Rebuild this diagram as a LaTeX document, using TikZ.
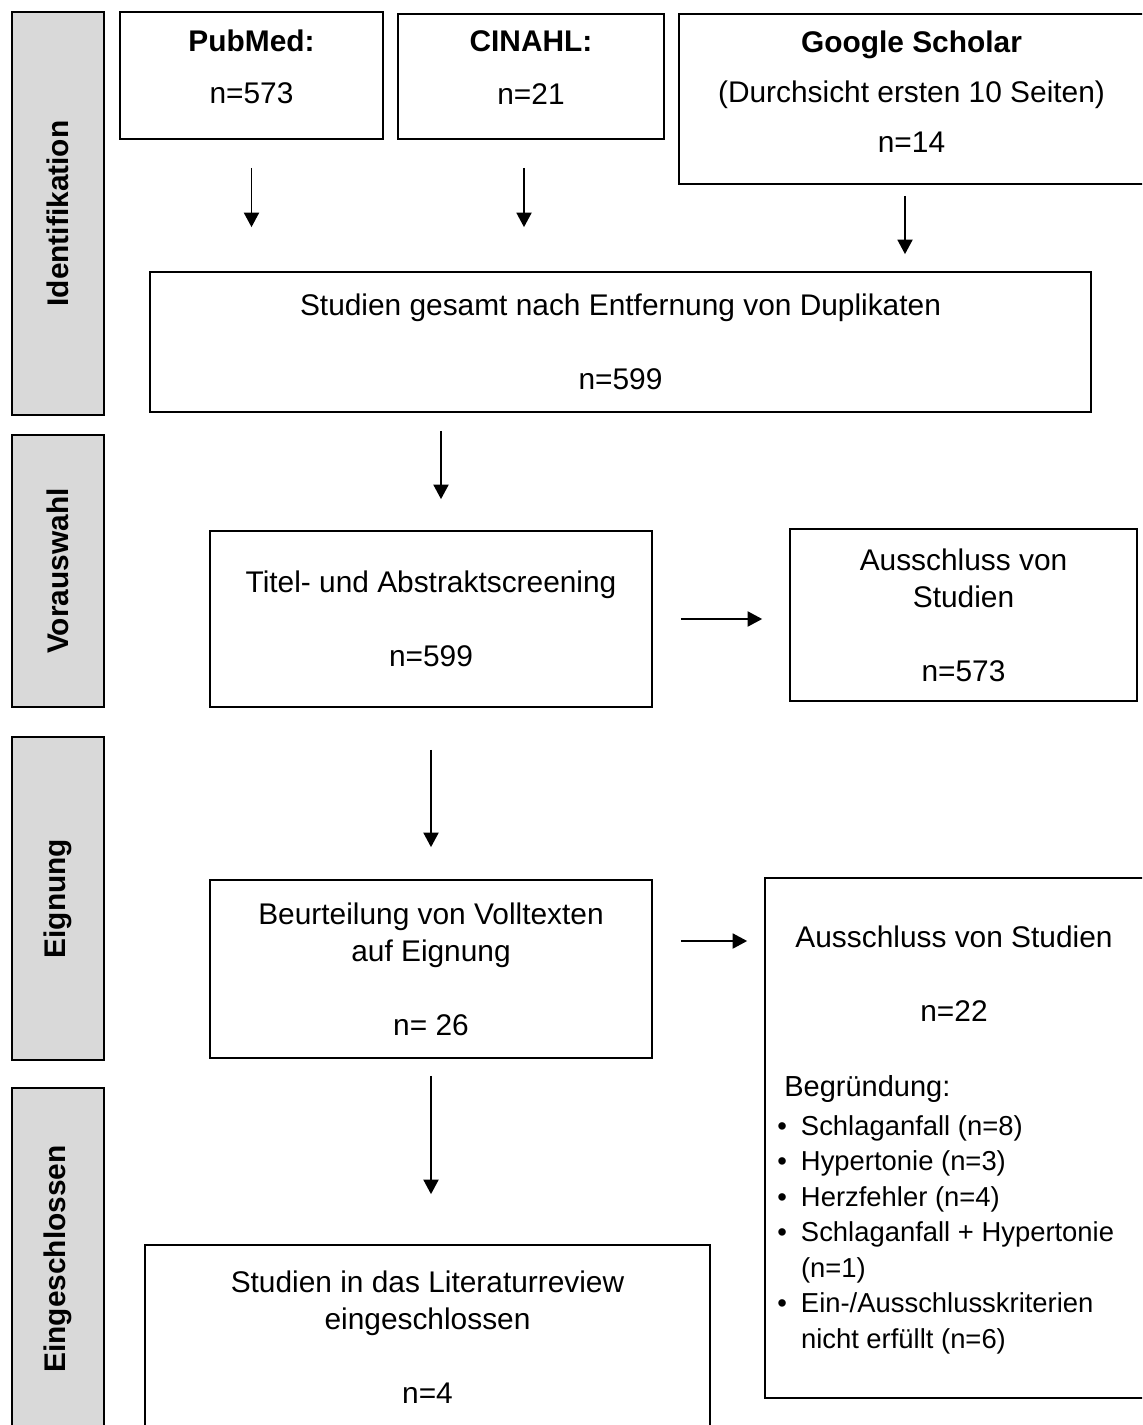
\documentclass[tikz,border=0pt]{standalone}
\usepackage{fontspec}
\setmainfont{Liberation Sans}
\usetikzlibrary{arrows.meta}

\begin{document}
\begin{tikzpicture}[x=0.02cm,y=-0.02cm,
    box/.style={draw,line width=1pt,align=center,inner sep=0pt,
      font=\fontsize{17}{21}\selectfont},
    side/.style={draw,line width=1pt,fill=black!15,rotate=90,inner sep=0pt,
      minimum height=1.84cm,font=\bfseries\fontsize{17}{21}\selectfont},
    flow/.style={line width=1.1pt,-{Triangle[length=2.9mm,width=3mm]}}]
  \clip (0,0) rectangle (1142,1425);

  % phases
  \node[side,minimum width=8.06cm] (s1) at (58,213.5) {Identifikation};
  \node[side,minimum width=5.44cm] (s2) at (58,571) {Vorauswahl};
  \node[side,minimum width=6.46cm] (s3) at (58,898.5) {Eignung};
  \node[side,minimum width=6.84cm] (s4) at (58,1259) {Eingeschlossen};

  % sources (empty last line lifts the text a little)
  \node[box,minimum width=5.26cm,minimum height=2.54cm] (pub) at (251.5,75.5)
    {\textbf{PubMed:}\\[9pt]n=573\\[-10.8pt]\mbox{}};
  \node[box,minimum width=5.32cm,minimum height=2.5cm] (cin) at (531,76.5)
    {\textbf{CINAHL:}\\[9pt]n=21\\[-10.8pt]\mbox{}};
  \node[box,minimum width=9.3cm,minimum height=3.4cm] (goo) at (911.5,99)
    {\textbf{Google Scholar}\\[7.5pt](Durchsicht ersten 10 Seiten)\\[7.5pt]n=14\\[-13pt]\mbox{}};
  \node[box,minimum width=18.82cm,minimum height=2.8cm] (all) at (620.5,342)
    {Studien gesamt nach Entfernung von Duplikaten\\[21pt]n=599};

  % screening
  \node[box,minimum width=8.84cm,minimum height=3.52cm] (tit) at (431,619)
    {Titel- und Abstraktscreening\\[21pt]n=599};
  \node[box,minimum width=6.94cm,minimum height=3.44cm] (ex1) at (963.5,615)
    {Ausschluss von\\Studien\\[21pt]n=573};

  % eligibility
  \node[box,minimum width=8.84cm,minimum height=3.56cm] (ful) at (431,969)
    {Beurteilung von Volltexten\\auf Eignung\\[21pt]n= 26};
  \node[box,minimum width=7.6cm,minimum height=10.4cm] (ex2) at (955,1138) {};
  \node[box,draw=none] (ex2t) at (954,974) {Ausschluss von Studien\\[21pt]n=22};
  \node[anchor=north west,inner sep=0pt,font=\fontsize{15.6}{20.2}\selectfont]
    (why) at (777,1071) {%
    \begin{tabular}{@{}l@{\hspace{8pt}}l@{}}
      \multicolumn{2}{@{\hspace{4pt}}l@{}}{\fontsize{16.5}{20}\selectfont Begründung:}\\[2pt]
      \textbullet & Schlaganfall (n=8)\\
      \textbullet & Hypertonie (n=3)\\
      \textbullet & Herzfehler (n=4)\\
      \textbullet & Schlaganfall + Hypertonie\\
                  & (n=1)\\
      \textbullet & Ein-/Ausschlusskriterien\\
                  & nicht erfüllt (n=6)
    \end{tabular}};

  % included
  \node[box,minimum width=11.3cm,minimum height=3.7cm] (inc) at (427.5,1337.5)
    {Studien in das Literaturreview\\eingeschlossen\\[21pt]n=4};

  % arrows
  \draw[flow,shorten <=0.56cm,shorten >=0.88cm] (pub.south) -- (pub.south |- all.north);
  \draw[flow,shorten <=0.56cm,shorten >=0.88cm] ([xshift=-0.14cm]cin.south) -- ([xshift=-0.14cm]cin.south |- all.north);
  \draw[flow,shorten <=0.22cm,shorten >=0.34cm] ([xshift=-0.13cm]goo.south) -- ([xshift=-0.13cm]goo.south |- all.north);
  \draw[flow,shorten <=0.36cm,shorten >=0.62cm] ([xshift=0.2cm]tit.north |- all.south) -- ([xshift=0.2cm]tit.north);
  \draw[flow,shorten <=0.56cm,shorten >=0.54cm] (tit.east) -- (tit.east -| ex1.west);
  \draw[flow,shorten <=0.84cm,shorten >=0.64cm] (tit.south) -- (ful.north);
  \draw[flow,shorten <=0.56cm,shorten >=0.34cm] ([yshift=0.56cm]ful.east) -- ([yshift=0.56cm]ful.east -| ex2.west);
  \draw[flow,shorten <=0.34cm,shorten >=1cm] (ful.south) -- (ful.south |- inc.north);
\end{tikzpicture}
\end{document}
